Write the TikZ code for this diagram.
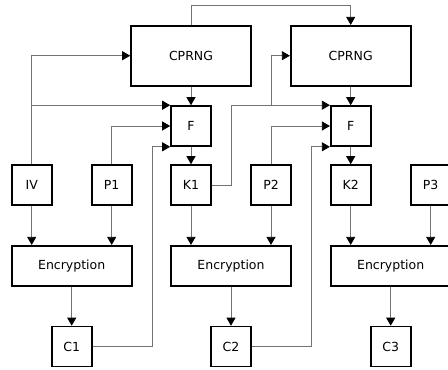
\documentclass[tikz,border=0pt]{standalone}
\usepackage{fontspec}
\setmainfont{DejaVu Sans}
\usetikzlibrary{arrows.meta, positioning}

\begin{document}
\begin{tikzpicture}[x=1pt, y=-1pt, font=\fontsize{12.5}{14}\selectfont,
                    block/.style = {draw, line width=1.6pt, minimum width=40pt, minimum height=40pt, inner sep=0pt},
                    wide/.style = {block, minimum width=120pt},
                    link/.style = {draw=black!55, line width=0.8pt, -{Triangle[length=8pt, width=9pt, color=black]}}]
    \useasboundingbox (0,0) rectangle (448,370);
    \clip (0,0) rectangle (448,370);

    % first chain
    \node[wide, minimum height=60pt] (cprng1) at (191,55.7) {CPRNG};
    \node[block] (f1) [below of=cprng1, node distance=70.3pt] {F};
    \node[block] (k1) [below of=f1, node distance=59pt] {K1};
    \node[block] (iv) [left of=k1, node distance=159.3pt] {IV};
    \node[block] (p1) [left of=k1, node distance=79.3pt] {P1};
    \node[wide] (enc1) at (71.7,265.7) {Encryption};
    \node[block] (c1) [below of=enc1, node distance=80.8pt] {C1};

    % second chain
    \node[wide, minimum height=60pt] (cprng2) [right of=cprng1, node distance=159.7pt] {CPRNG};
    \node[block] (f2) [below of=cprng2, node distance=70.3pt] {F};
    \node[block] (k2) [below of=f2, node distance=59pt] {K2};
    \node[block] (p2) [left of=k2, node distance=79.7pt] {P2};
    \node[wide] (enc2) [right of=enc1, node distance=159.3pt] {Encryption};
    \node[block] (c2) [below of=enc2, node distance=80.8pt] {C2};

    % third chain
    \node[block] (p3) [right of=k2, node distance=80pt] {P3};
    \node[wide] (enc3) [right of=enc2, node distance=159.7pt] {Encryption};
    \node[block] (c3) [below of=enc3, node distance=80.8pt] {C3};

    \draw[link] (cprng1.north) -- ++(0,20pt) -| (cprng2.north);
    \draw[link] (cprng1) -- (f1);
    \draw[link] (cprng2) -- (f2);
    \draw[link] (f1) -- (k1);
    \draw[link] (f2) -- (k2);

    \draw[link] (iv.north) |- (cprng1.west);
    \draw[link] (iv.north |- f1.north west) -- (f1.north west);
    \draw[link] (p1.north) |- (f1.west);
    \draw[link] (c1.east) -- ++(60pt,0) |- (f1.south west);

    \draw[link] (k1.east) -- ++(20pt,0) |- (f2.north west);
    \draw[link] (p2.north |- f2.north west) |- (cprng2.west);
    \draw[link] (p2.north) |- (f2.west);
    \draw[link] (c2.east) -- ++(60pt,0) |- (f2.south west);

    \draw[link] (iv) -- (iv |- enc1.north);
    \draw[link] (p1) -- (p1 |- enc1.north);
    \draw[link] (k1) -- (k1 |- enc2.north);
    \draw[link] (p2) -- (p2 |- enc2.north);
    \draw[link] (k2) -- (k2 |- enc3.north);
    \draw[link] (p3) -- (p3 |- enc3.north);

    \draw[link] (enc1) -- (c1);
    \draw[link] (enc2) -- (c2);
    \draw[link] (enc3) -- (c3);
\end{tikzpicture}
\end{document}
